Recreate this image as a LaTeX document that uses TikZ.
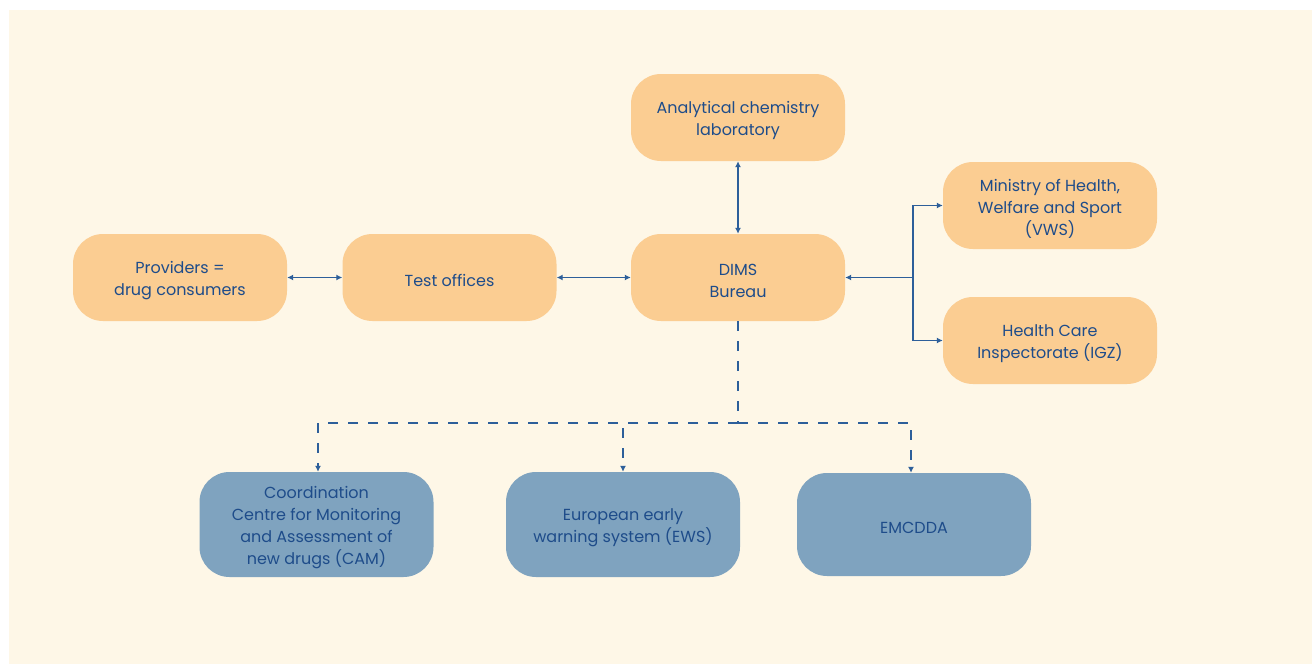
\documentclass[tikz,border=0pt]{standalone}
\usepackage{fontspec}
\setmainfont{Poppins}
\usetikzlibrary{arrows.meta}
\definecolor{bgc}{HTML}{FEF7E7}
\definecolor{orangebox}{HTML}{FBCD92}
\definecolor{bluebox}{HTML}{7FA3BF}
\definecolor{txt}{HTML}{1E4C8A}
\definecolor{linec}{HTML}{2D5F9A}
\tikzset{
  obox/.style={fill=orangebox, draw=none, rounded corners=30pt, minimum width=214pt, minimum height=87pt, inner sep=0pt},
  bbox/.style={fill=bluebox, draw=none, rounded corners=30pt, minimum width=234pt, minimum height=105pt, inner sep=0pt},
  tx/.style={label={[align=center, text=txt, font=\fontsize{16}{22}\selectfont, yshift=-3pt]center:#1}},
  conn/.style={draw=linec, line width=1.2pt},
  tip/.style={-{Latex[length=6pt,width=6pt]}},
  both/.style={{Latex[length=6pt,width=6pt]}-{Latex[length=6pt,width=6pt]}},
  dsh/.style={dash pattern=on 10pt off 10pt}
}
\begin{document}
\begin{tikzpicture}[x=1pt,y=-1pt]
\useasboundingbox (0,0) rectangle (1312,664);
\fill[white] (0,0) rectangle (1312,664);
\fill[bgc] (9,10) rectangle (1312,664);

\node[obox, tx={Analytical chemistry\\laboratory}] (lab) at (738,117.5) {};
\node[obox, tx={Providers =\\drug consumers}] (prov) at (180,277.5) {};
\node[obox, tx={Test offices}] (test) at (449.5,277.5) {};
\node[obox, tx={DIMS\\Bureau}] (dims) at (738,277.5) {};
\node[obox, tx={Ministry of Health,\\Welfare and Sport\\(VWS)}] (min) at (1050,205.5) {};
\node[obox, tx={Health Care\\Inspectorate (IGZ)}] (igz) at (1050,340.5) {};
\node[bbox, tx={Coordination\\Centre for Monitoring\\and Assessment of\\new drugs (CAM)}] (cam) at (316.5,524.5) {};
\node[bbox, tx={European early\\warning system (EWS)}] (ews) at (623,524.5) {};
\node[bbox, minimum height=103pt, tx={EMCDDA}] (emc) at (914,524.5) {};

\coordinate (j) at (913,277.5);
\coordinate (d) at (738,423);

\draw[conn, both] (prov) -- (test);
\draw[conn, both] (test) -- (dims);
\draw[conn, both] (lab) -- (dims);
\draw[conn, tip] (j) -- (dims.east);
\draw[conn, tip] (j) |- (min.west);
\draw[conn, tip] (j) |- (igz.west);

\draw[conn, dsh] (dims.south) -- (d);
\draw[conn, dsh, tip] (d) -| ([xshift=1.5pt]cam.north);
\draw[conn, dsh, tip] (d) -| (ews.north);
\draw[conn, dsh, tip] (d) -| ([xshift=-3pt]emc.north);
\end{tikzpicture}
\end{document}
